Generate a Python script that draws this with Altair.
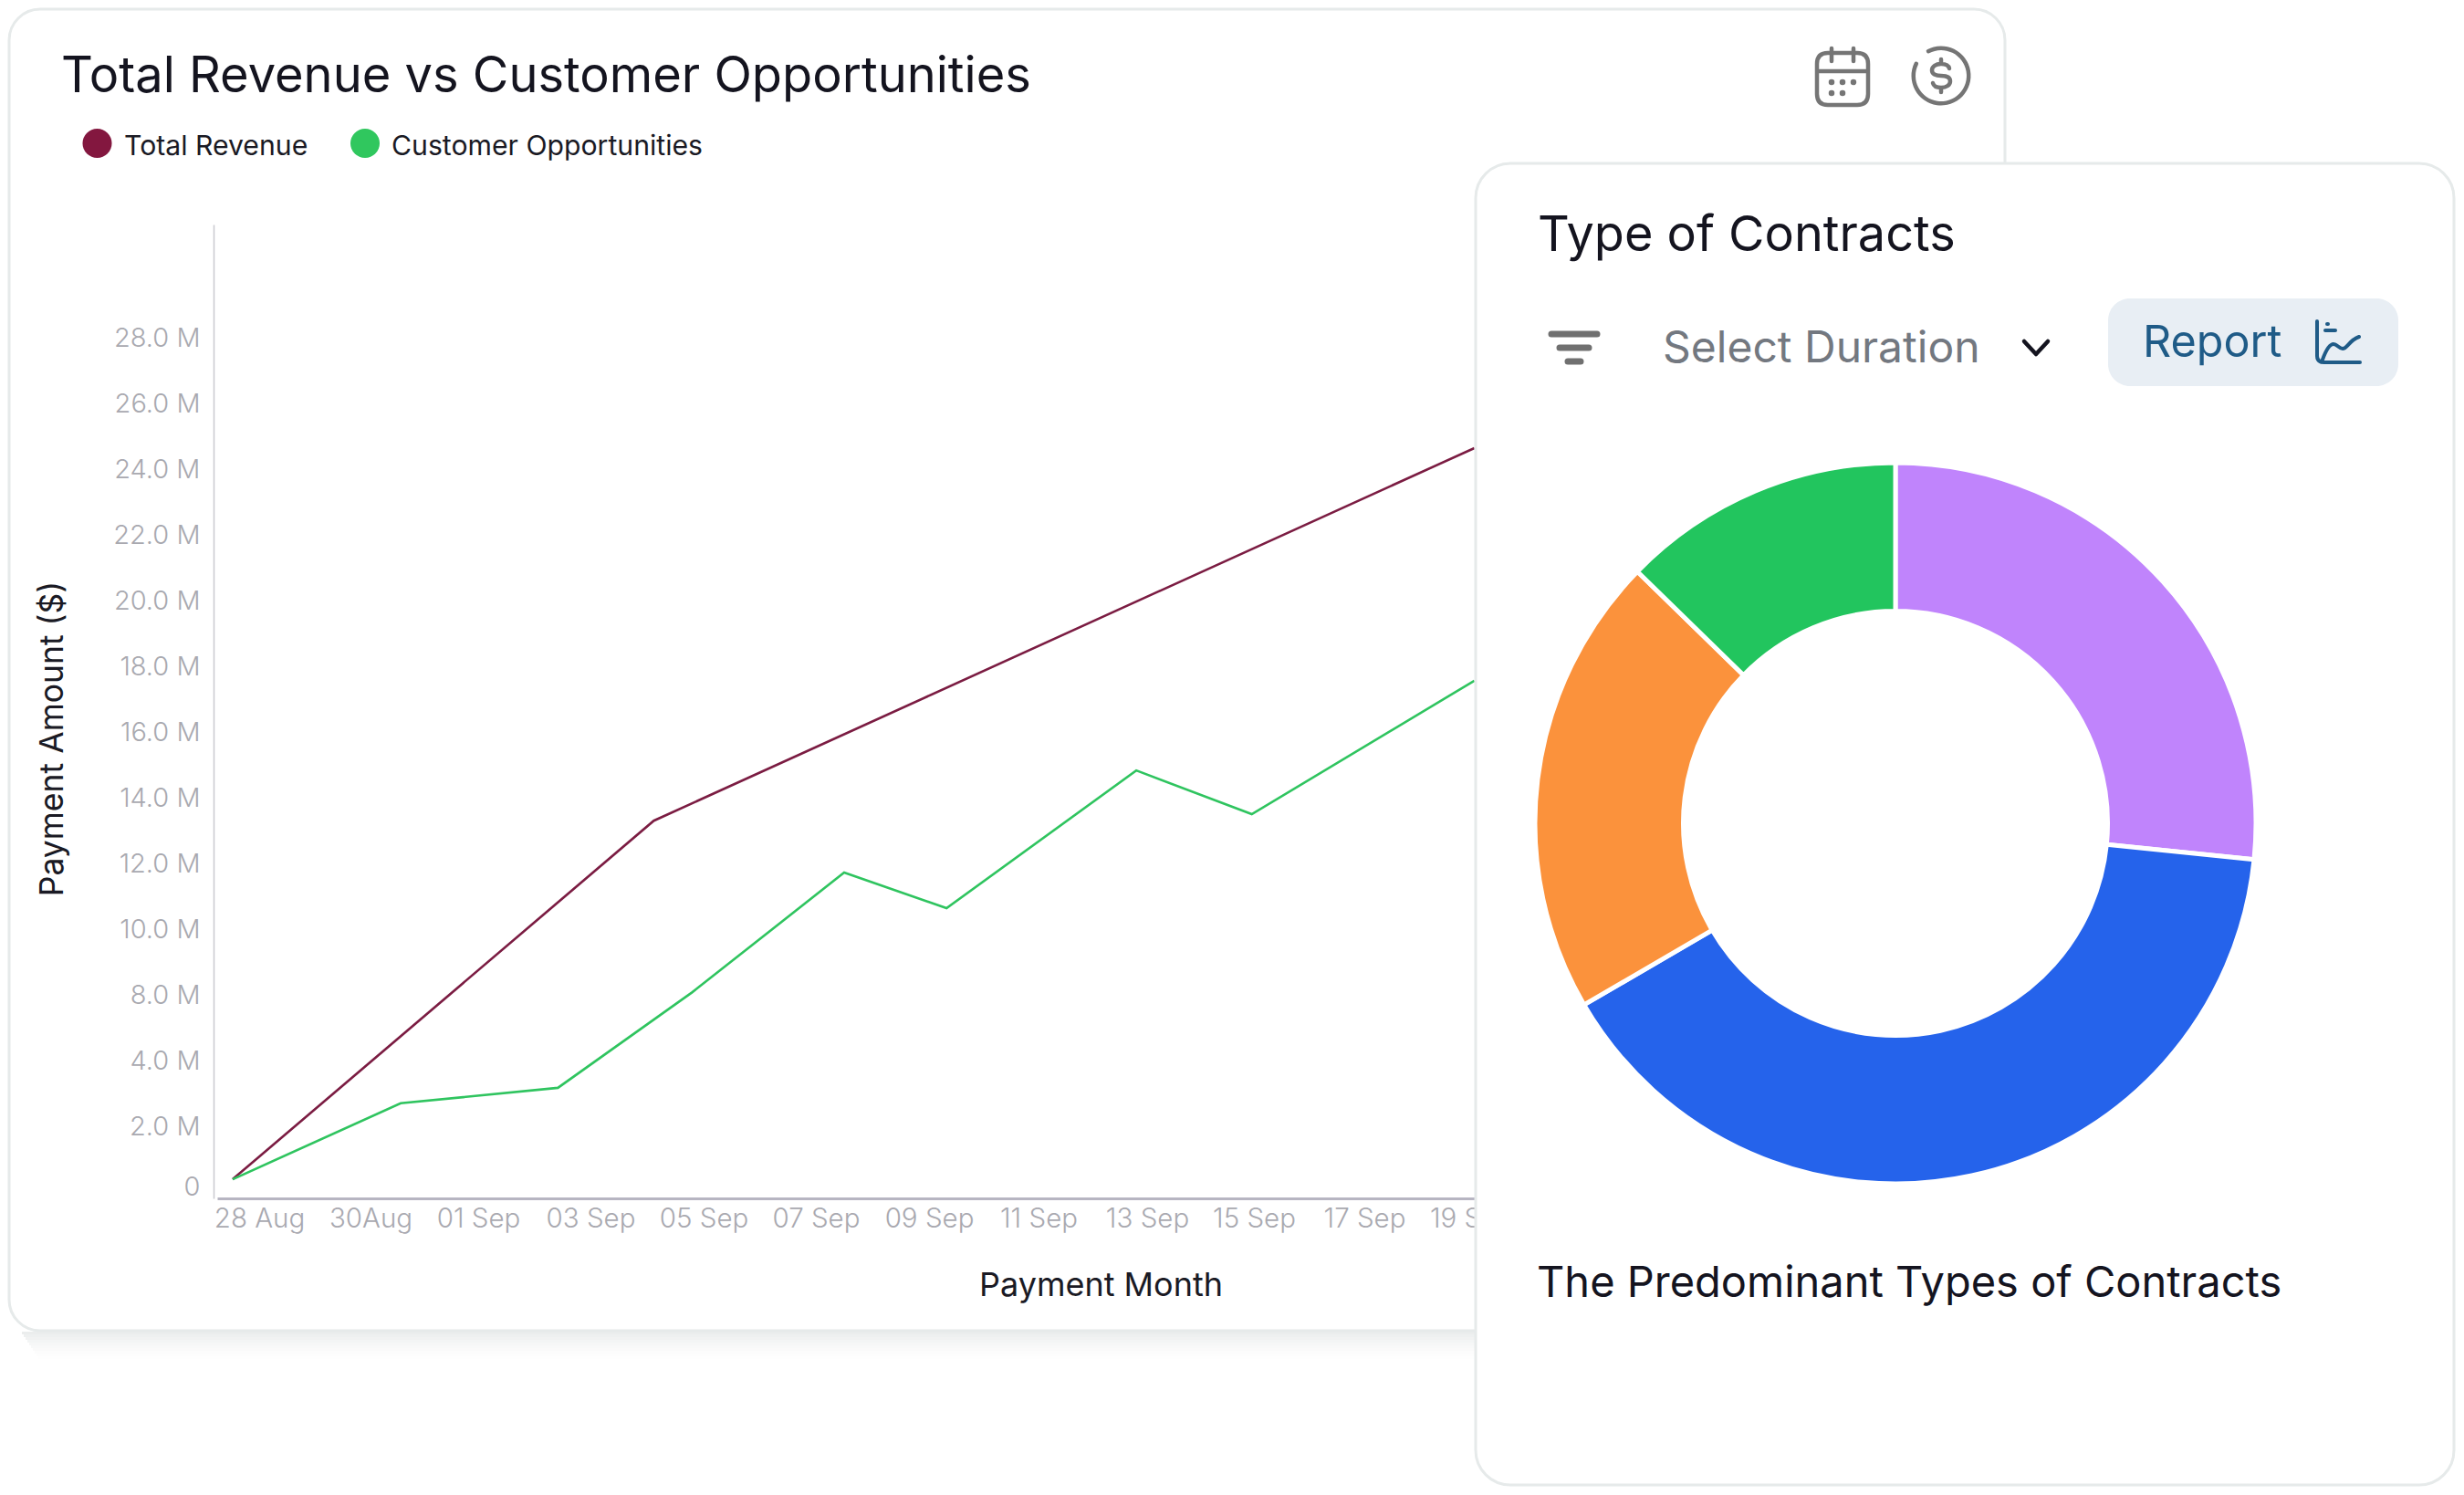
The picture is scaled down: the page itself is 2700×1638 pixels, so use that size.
import re
import altair as alt
import pandas as pd

W, H = 2684, 1622

def px(v):
    return v - 8

# ---- data ----
tick_labels = ["28 Aug", "30Aug", "01 Sep", "03 Sep", "05 Sep", "07 Sep", "09 Sep",
               "11 Sep", "13 Sep", "15 Sep", "17 Sep", "19 Sep"]
y_ticks = [0, 2, 4, 8, 10, 12, 14, 16, 18, 20, 22, 24, 26, 28]

revenue_x = [-0.24, 3.56, 11.03]
revenue_y = [0.24, 13.3, 24.64]
opportunity_x = [-0.24, 1.28, 2.71, 3.9, 5.25, 6.16, 7.9, 8.98, 11.03]
opportunity_y = [0.24, 2.7, 3.17, 8.08, 11.72, 10.64, 14.83, 13.5, 17.56]

series_names = ["Total Revenue", "Customer Opportunities"]
series_colors = ["#7B1C42", "#2FC45F"]

contract_kinds = ["A", "B", "C", "D"]
contract_share = [26.6, 40.0, 20.7, 12.7]
contract_colors = ["#C084FC", "#2563EB", "#FB923C", "#22C55E"]

# ---- scales ----
x_domain = [-0.38] + list(range(12)) + [12]
x_range = [px(v) for v in [238, 284, 406, 524, 647, 771, 894, 1018, 1138, 1257, 1374, 1495, 1612, 1730]]
y_domain = [-0.4] + y_ticks + [31.44]
y_range = [px(v) for v in [1313, 1300, 1234, 1162, 1090, 1018, 946, 874, 802, 730, 658, 586, 514, 442, 370, 246]]

line_df = pd.DataFrame(
    {"pos": revenue_x + opportunity_x,
     "amount": revenue_y + opportunity_y,
     "series": [series_names[0]] * len(revenue_x) + [series_names[1]] * len(opportunity_x)}
)
pie_df = pd.DataFrame({"kind": contract_kinds, "share": contract_share})


def rect(x1, y1, x2, y2, **kw):
    return alt.Chart().mark_rect(**kw).encode(
        x=alt.value(px(x1)), x2=alt.value(px(x2)), y=alt.value(px(y1)), y2=alt.value(px(y2)))


def text(s, x, y, size, color, align="left", weight=400, font="Inter", angle=0, baseline="alphabetic"):
    kw = {"angle": angle} if angle else {}
    return alt.Chart().mark_text(text=s, font=font, fontSize=size, color=color, align=align,
                                 fontWeight=weight, baseline=baseline, **kw).encode(
        x=alt.value(px(x)), y=alt.value(px(y)))


def icon(path, cx, cy, half, color, sw):
    unit = re.sub(r"-?\d+(?:\.\d+)?", lambda m: f"{float(m.group()) / half:.4f}", path)
    return alt.Chart().mark_point(shape=unit, size=(2 * half) ** 2, filled=False, color=color,
                                  strokeWidth=sw, opacity=1, strokeCap="round", strokeJoin="round").encode(
        x=alt.value(px(cx)), y=alt.value(px(cy)))


# ---- back card ----
layers = []
for i in range(10):
    layers.append(rect(24 + i * 2, 1459 + i * 3, 1620, 1459 + (i + 1) * 3, color="#5C6B6B", opacity=0.12 * (1 - i / 10) ** 1.5))
layers.append(rect(10, 10, 2197, 1458, fill="transparent", stroke="#E6EAEA", strokeWidth=3, cornerRadius=34))

# ---- lines and axes ----
lines = alt.Chart(line_df).mark_line(strokeWidth=2.6).encode(
    x=alt.X("pos:Q",
            scale=alt.Scale(domain=x_domain, range=x_range, nice=False, zero=False),
            axis=alt.Axis(values=list(range(12)), grid=False, ticks=False,
                          labelExpr="%s[datum.value]" % str(tick_labels),
                          labelFont="Inter", labelFontSize=29.5, labelColor="#A9A9B0", labelFontWeight=300,
                          labelPadding=8, labelBaseline="top", labelOverlap=False, labelBound=False,
                          labelFlush=False, domainColor="#B7B5C2", domainWidth=3,
                          offset=px(1313) - H,
                          title="Payment Month", titleFont="Inter", titleFontSize=36, titleFontWeight=400,
                          titleColor="#1A1A24", titleX=1198, titleY=106, titleAlign="center",
                          titleBaseline="alphabetic")),
    y=alt.Y("amount:Q",
            scale=alt.Scale(domain=y_domain, range=y_range, nice=False, zero=False),
            axis=alt.Axis(values=y_ticks, grid=False, ticks=False,
                          labelExpr="datum.value == 0 ? '0' : format(datum.value, '.1f') + ' M'",
                          labelFont="Inter", labelFontSize=29, labelColor="#A9A9B0", labelFontWeight=300,
                          labelPadding=15, labelOverlap=False, labelBound=False,
                          domainColor="#C9C9CF", domainWidth=1.5,
                          offset=-px(234),
                          title="Payment Amount ($)", titleFont="Inter", titleFontSize=35.5, titleFontWeight=400,
                          titleColor="#1A1A24", titleX=-177, titleY=801, titleAngle=270, titleAlign="center",
                          titleBaseline="middle")),
    stroke=alt.Stroke("series:N", scale=alt.Scale(domain=series_names, range=series_colors), legend=None),
    detail="series:N",
)
layers.append(lines)

# ---- header of the back card ----
layers.append(text("Total Revenue vs Customer Opportunities", 67, 101, 54.2, "#14141F"))
for name, colour, cx, tx in zip(series_names, ["#83173F", "#30C75E"], [106.5, 400], [136, 429]):
    layers.append(alt.Chart().mark_point(filled=True, size=1024, color=colour, opacity=1, shape="circle").encode(
        x=alt.value(px(cx)), y=alt.value(px(157))))
    layers.append(text(name, tx, 170, 30.2, "#1A1A24"))

GREY = "#757575"
layers.append(icon("M-16 -28 H16 Q28 -28 28 -16 V17 Q28 29 16 29 H-16 Q-28 29 -28 17 V-16 Q-28 -28 -16 -28 Z "
                   "M-12 -33 V-19 M12 -33 V-19 M-28 -8 H28", 2019, 86, 50, GREY, 4.5))
layers.append(icon("M-12 4 V4.1 M0 4 V4.1 M12 4 V4.1 M-12 16 V16.1 M0 16 V16.1", 2019, 86, 50, GREY, 6.5))
layers.append(alt.Chart().mark_arc(innerRadius=28, outerRadius=32.5, theta=5.73, theta2=11.52,
                                   color=GREY, cornerRadius=2).encode(x=alt.value(px(2127)), y=alt.value(px(83))))
layers.append(icon("M9 -8 C8 -12 4 -13 0 -13 C-6 -13 -10 -10 -10 -6 C-10 -2 -6 0 0 0 C6 0 10 2 10 6 "
                   "C10 10 6 13 0 13 C-4 13 -8 12 -9 8 M0 -13 V-18 M0 13 V18", 2127, 83, 30, GREY, 4.5))

# ---- front card ----
layers.append(rect(1617, 179, 2689, 1627, fill="#FFFFFF", stroke="#E6EAEA", strokeWidth=3, cornerRadius=38))
layers.append(text("Type of Contracts", 1685, 275, 54, "#14141F"))
layers.append(icon("M-25 -15 H25 M-16 0 H16 M-7 15 H7", 1725, 381, 30, "#707070", 7))
layers.append(text("Select Duration", 1822, 397, 48, "#737880"))
layers.append(icon("M-13 -7 L0 7 L13 -7", 2231, 381, 20, "#14141F", 4.5))
layers.append(rect(2310, 327, 2628, 423, color="#E8EEF4", cornerRadius=24))
layers.append(text("Report", 2348, 391, 48.5, "#1F5B87"))
layers.append(icon("M-23 -23 V15 Q-23 22 -15 22 H24 M-14 -13 H-3 M-12 -20 H-11 "
                   "M-17 19 C-13 8 -9 2 -5 2 C-1 2 1 7 5 7 C10 7 12 -2 23 -6", 2562, 375, 30, "#1F5B87", 4))

donut = alt.Chart(pie_df).mark_arc(innerRadius=232.5, outerRadius=395, stroke="#FFFFFF", strokeWidth=5).encode(
    theta=alt.Theta("share:Q", stack=True),
    fill=alt.Fill("kind:N", scale=alt.Scale(domain=contract_kinds, range=contract_colors), legend=None),
    order=alt.Order("kind:N"),
    x=alt.value(px(2077)),
    y=alt.value(px(902)),
)
layers.append(donut)
layers.append(text("The Predominant Types of Contracts", 1684, 1421, 47, "#14141F"))

chart = alt.layer(*layers).properties(
    width=W, height=H, padding=0, autosize=alt.AutoSizeParams(type="none"), background="#FFFFFF"
).configure_view(strokeWidth=0)

chart.save("out.html", embed_options={"renderer": "svg", "actions": False})
